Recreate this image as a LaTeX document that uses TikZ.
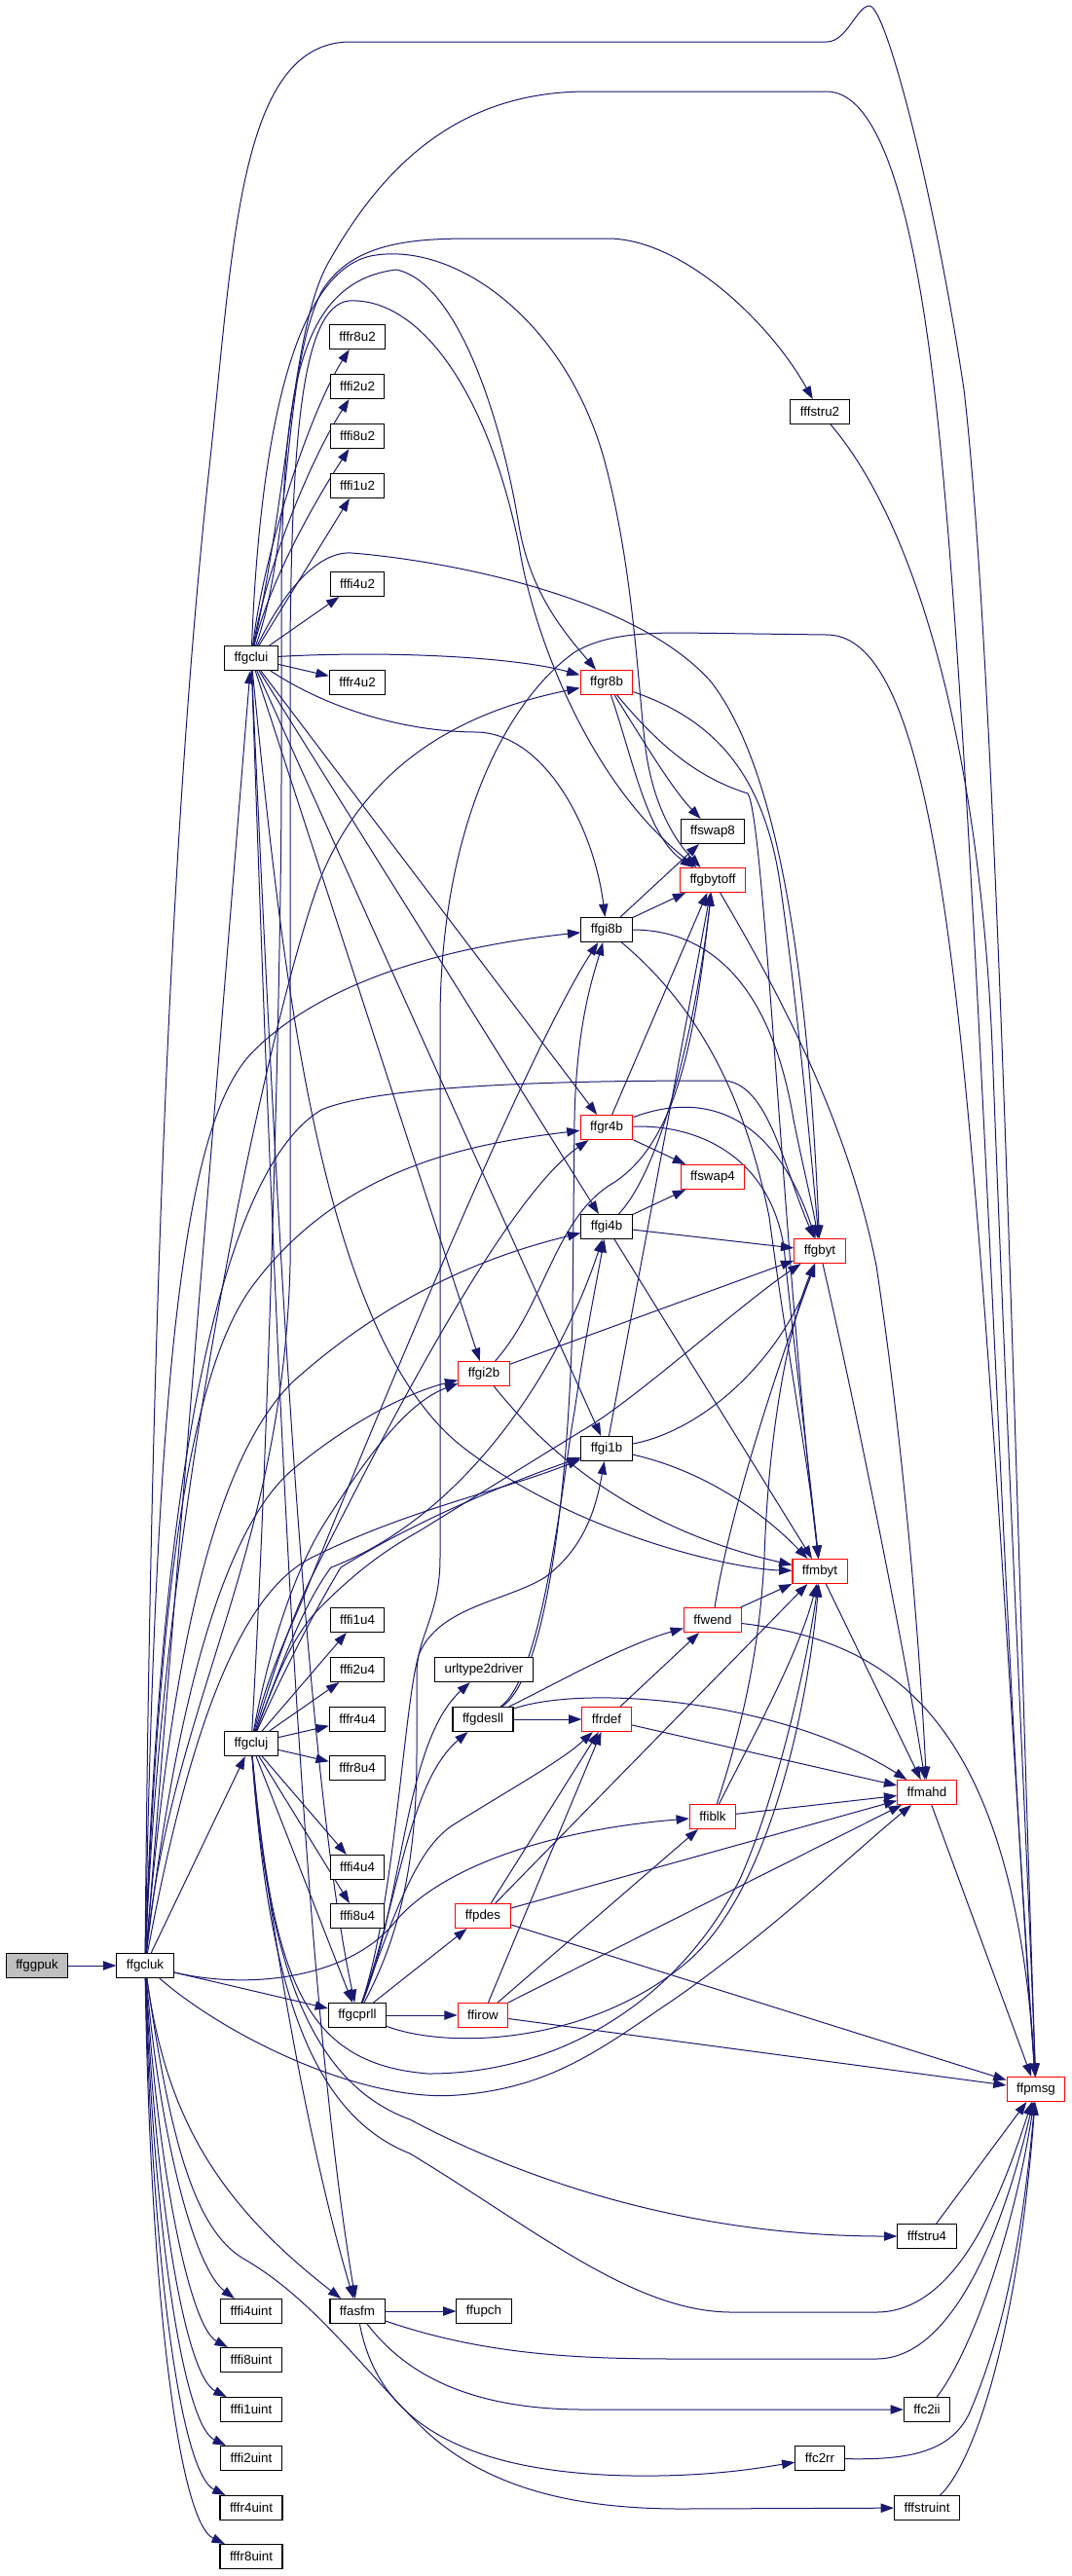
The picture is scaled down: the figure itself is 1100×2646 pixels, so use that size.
\documentclass[tikz,border=0pt]{standalone}
\usepackage{fontspec}
\setmainfont{Liberation Sans}
\usetikzlibrary{arrows.meta}
\definecolor{edgecol}{HTML}{191970}
\definecolor{rootfill}{HTML}{BFBFBF}
\pgfdeclarelayer{bg}
\pgfsetlayers{bg,main}
\begin{document}
\begin{tikzpicture}[x=0.75pt,y=-0.75pt,
  nbox/.style={draw=black, line width=0.8pt, fill=white, minimum height=18.75pt, inner xsep=7.5pt, inner ysep=0pt, font=\fontsize{10}{12}\selectfont},
  rnbox/.style={nbox, draw=red},
  edg/.style={draw=edgecol, line width=0.75pt, -{Triangle[length=10pt,width=7pt]}}]
\useasboundingbox (0,0) rectangle (1100,2646);
% nodes
\node[nbox, fill=rootfill] (ffggpuk) at (38,2019) {ffggpuk};
\node[nbox] (ffgcluk) at (149,2019) {ffgcluk};
\node[nbox] (ffgclui) at (258,676) {ffgclui};
\node[nbox] (ffgcluj) at (258,1791) {ffgcluj};
\node[nbox] (fffi4uint) at (258,2374) {fffi4uint};
\node[nbox] (fffi8uint) at (258,2424) {fffi8uint};
\node[nbox] (fffi1uint) at (258,2475) {fffi1uint};
\node[nbox] (fffi2uint) at (258,2525) {fffi2uint};
\node[nbox] (fffr4uint) at (258,2576) {fffr4uint};
\node[nbox] (fffr8uint) at (258,2626) {fffr8uint};
\node[nbox] (fffr8u2) at (367,346) {fffr8u2};
\node[nbox] (fffi2u2) at (367,397) {fffi2u2};
\node[nbox] (fffi8u2) at (367,448) {fffi8u2};
\node[nbox] (fffi1u2) at (367,499) {fffi1u2};
\node[nbox] (fffi4u2) at (367,600) {fffi4u2};
\node[nbox] (fffr4u2) at (367,701) {fffr4u2};
\node[nbox] (fffi1u4) at (367,1664) {fffi1u4};
\node[nbox] (fffi2u4) at (367,1715) {fffi2u4};
\node[nbox] (fffr4u4) at (367,1766) {fffr4u4};
\node[nbox] (fffr8u4) at (367,1816) {fffr8u4};
\node[nbox] (fffi4u4) at (367,1918) {fffi4u4};
\node[nbox] (fffi8u4) at (367,1968) {fffi8u4};
\node[nbox] (ffgcprll) at (367,2070) {ffgcprll};
\node[nbox] (ffasfm) at (367,2374) {ffasfm};
\node[rnbox] (ffgi2b) at (497,1411) {ffgi2b};
\node[nbox] (urltype2driver) at (497,1715) {urltype2driver};
\node[nbox] (ffgdesll) at (496,1766) {ffgdesll};
\node[rnbox] (ffpdes) at (496,1968) {ffpdes};
\node[rnbox] (ffirow) at (496,2070) {ffirow};
\node[nbox] (ffupch) at (497,2374) {ffupch};
\node[rnbox] (ffgr8b) at (623,701) {ffgr8b};
\node[nbox] (ffgi8b) at (623,955) {ffgi8b};
\node[rnbox] (ffgr4b) at (623,1158) {ffgr4b};
\node[nbox] (ffgi4b) at (623,1260) {ffgi4b};
\node[nbox] (ffgi1b) at (623,1488) {ffgi1b};
\node[rnbox] (ffrdef) at (623,1766) {ffrdef};
\node[nbox] (ffswap8) at (732,854) {ffswap8};
\node[rnbox] (ffgbytoff) at (732,904) {ffgbytoff};
\node[rnbox] (ffswap4) at (732,1209) {ffswap4};
\node[rnbox] (ffwend) at (732,1664) {ffwend};
\node[rnbox] (ffiblk) at (732,1866) {ffiblk};
\node[nbox] (fffstru2) at (842,423) {fffstru2};
\node[rnbox] (ffgbyt) at (842,1285) {ffgbyt};
\node[rnbox] (ffmbyt) at (842,1614) {ffmbyt};
\node[nbox] (ffc2rr) at (842,2525) {ffc2rr};
\node[rnbox] (ffmahd) at (952,1841) {ffmahd};
\node[nbox] (fffstru4) at (952,2297) {fffstru4};
\node[nbox] (ffc2ii) at (952,2475) {ffc2ii};
\node[nbox] (fffstruint) at (952,2576) {fffstruint};
\node[rnbox] (ffpmsg) at (1064,2146) {ffpmsg};

\begin{pgfonlayer}{bg}
\fill[white] (0,0) rectangle (1100,2646);
% ffggpuk / ffgcluk
\draw[edg] (ffggpuk) -- (ffgcluk);
\draw[edg] (ffgcluk) -- (ffgcluj);
\draw[edg] (ffgcluk) -- (ffgclui);
\draw[edg] (ffgcluk) -- (ffgcprll);
\draw[edg] (ffgcluk) .. controls (170,2170) and (220,2260) .. (ffasfm);
\draw[edg] (ffgcluk) .. controls (165,2200) and (200,2330) .. (fffi4uint);
\draw[edg] (ffgcluk) .. controls (162,2230) and (195,2390) .. (fffi8uint);
\draw[edg] (ffgcluk) .. controls (160,2260) and (190,2440) .. (fffi1uint);
\draw[edg] (ffgcluk) .. controls (158,2290) and (188,2490) .. (fffi2uint);
\draw[edg] (ffgcluk) .. controls (156,2320) and (185,2540) .. (fffr4uint);
\draw[edg] (ffgcluk) .. controls (154,2350) and (183,2590) .. (fffr8uint);
\draw[edg] (ffgcluk) .. controls (175,2200) and (200,2290) .. (250,2320) .. controls (320,2360) and (370,2430) .. (430,2490) .. controls (500,2560) and (600,2577) .. (700,2577) -- (fffstruint);
\draw[edg] (ffgcluk) .. controls (230,2090) and (370,2160) .. (470,2152) .. controls (560,2145) and (610,2110) .. (680,2062) .. controls (780,1995) and (880,1900) .. (ffmahd);
\draw[edg] (ffgcluk) .. controls (260,2045) and (360,2030) .. (405,1975) .. controls (450,1920) and (560,1880) .. (ffiblk);
\draw[edg] (ffgcluk) .. controls (155,1300) and (180,800) .. (215,480) .. controls (240,250) and (245,43) .. (360,43) -- (849,43) .. controls (870,43) and (880,6) .. (893,6) .. controls (910,6) and (960,200) .. (990,400) .. controls (1025,700) and (1045,1600) .. (ffpmsg);
\draw[edg] (ffgcluk) .. controls (160,1400) and (190,1150) .. (260,1080) .. controls (340,1000) and (480,970) .. (ffgi8b);
\draw[edg] (ffgcluk) .. controls (165,1600) and (200,1400) .. (260,1320) .. controls (350,1200) and (480,1175) .. (ffgr4b);
\draw[edg] (ffgcluk) .. controls (175,1700) and (220,1500) .. (300,1420) .. controls (400,1330) and (500,1290) .. (ffgi4b);
\draw[edg] (ffgcluk) .. controls (180,1750) and (230,1570) .. (300,1510) .. controls (360,1460) and (420,1430) .. (ffgi2b);
\draw[edg] (ffgcluk) .. controls (190,1800) and (240,1640) .. (320,1600) .. controls (420,1550) and (520,1530) .. (ffgi1b);
\draw[edg] (ffgcluk) .. controls (170,1500) and (290,1000) .. (330,900) .. controls (380,780) and (480,730) .. (ffgr8b);
\draw[edg] (ffgcluk) .. controls (165,1500) and (230,1200) .. (330,1140) .. controls (400,1110) and (650,1110) .. (745,1110) .. controls (790,1115) and (805,1200) .. (ffgbyt);
\draw[edg] (ffgcluk) .. controls (175,1750) and (290,1600) .. (298,1300) -- (298,660) .. controls (300,450) and (310,315) .. (358,309) .. controls (430,305) and (500,400) .. (533,560) .. controls (545,640) and (600,800) .. (ffgbytoff);
% ffgclui
\draw[edg] (ffgclui) .. controls (272,560) and (320,420) .. (fffr8u2);
\draw[edg] (ffgclui) .. controls (274,580) and (320,470) .. (fffi2u2);
\draw[edg] (ffgclui) .. controls (276,600) and (320,520) .. (fffi8u2);
\draw[edg] (ffgclui) -- (fffi1u2);
\draw[edg] (ffgclui) -- (fffi4u2);
\draw[edg] (ffgclui) -- (fffr4u2);
\draw[edg] (ffgclui) .. controls (300,560) and (290,380) .. (330,300) .. controls (360,250) and (420,245) .. (484,245) -- (624,245) .. controls (700,245) and (790,330) .. (fffstru2);
\draw[edg] (ffgclui) .. controls (300,480) and (300,330) .. (340,265) .. controls (400,160) and (480,94) .. (603,94) -- (849,94) .. controls (900,94) and (940,200) .. (965,450) .. controls (1005,850) and (1030,1700) .. (ffpmsg);
\draw[edg] (ffgclui) .. controls (400,668) and (530,675) .. (ffgr8b);
\draw[edg] (ffgclui) .. controls (340,730) and (420,752) .. (491,752) .. controls (560,755) and (610,850) .. (ffgi8b);
\draw[edg] (ffgclui) -- (ffgr4b);
\draw[edg] (ffgclui) -- (ffgi4b);
\draw[edg] (ffgclui) -- (ffgi2b);
\draw[edg] (ffgclui) -- (ffgi1b);
\draw[edg] (ffgclui) .. controls (290,1000) and (330,1380) .. (480,1490) .. controls (600,1580) and (760,1612) .. (ffmbyt);
\draw[edg] (ffgclui) .. controls (295,600) and (330,566) .. (361,568) .. controls (450,575) and (650,610) .. (730,700) .. controls (800,790) and (830,1000) .. (ffgbyt);
\draw[edg] (ffgclui) .. controls (282,1200) and (310,1800) .. (ffgcprll);
\draw[edg] (ffgclui) .. controls (280,1300) and (305,2000) .. (ffasfm);
\draw[edg] (ffgclui) .. controls (265,500) and (290,275) .. (386,262) .. controls (470,250) and (580,330) .. (620,470) .. controls (650,580) and (655,700) .. (662,760) .. controls (668,820) and (690,860) .. (ffgbytoff);
% ffgcluj
\draw[edg] (ffgcluj) -- (fffi1u4);
\draw[edg] (ffgcluj) -- (fffi2u4);
\draw[edg] (ffgcluj) -- (fffr4u4);
\draw[edg] (ffgcluj) -- (fffr8u4);
\draw[edg] (ffgcluj) -- (fffi4u4);
\draw[edg] (ffgcluj) -- (fffi8u4);
\draw[edg] (ffgcluj) -- (ffgcprll);
\draw[edg] (ffgcluj) .. controls (272,1950) and (315,2200) .. (ffasfm);
\draw[edg] (ffgcluj) .. controls (275,2020) and (320,2140) .. (421,2177) .. controls (530,2235) and (700,2297) .. (fffstru4);
\draw[edg] (ffgcluj) .. controls (275,2030) and (315,2170) .. (421,2212) .. controls (550,2290) and (650,2374) .. (750,2375) -- (900,2375) .. controls (985,2375) and (1030,2250) .. (ffpmsg);
\draw[edg] (ffgcluj) .. controls (280,2030) and (310,2120) .. (440,2130) .. controls (580,2130) and (700,2050) .. (760,1930) .. controls (800,1840) and (830,1700) .. (ffmbyt);
\draw[edg] (ffgcluj) .. controls (275,1720) and (295,1680) .. (312,1640) .. controls (360,1520) and (540,1080) .. (ffgi8b);
\draw[edg] (ffgcluj) .. controls (280,1720) and (300,1660) .. (320,1620) .. controls (400,1460) and (520,1230) .. (ffgr4b);
\draw[edg] (ffgcluj) .. controls (285,1720) and (310,1650) .. (340,1610) .. controls (470,1560) and (570,1420) .. (ffgi4b);
\draw[edg] (ffgcluj) .. controls (275,1700) and (300,1620) .. (330,1570) .. controls (380,1490) and (420,1440) .. (ffgi2b);
\draw[edg] (ffgcluj) .. controls (290,1720) and (320,1660) .. (350,1610) .. controls (430,1560) and (530,1520) .. (ffgi1b);
\draw[edg] (ffgcluj) .. controls (285,1720) and (300,1680) .. (330,1650) .. controls (370,1610) and (400,1590) .. (430,1573) -- (597,1470) .. controls (650,1440) and (760,1340) .. (ffgbyt);
\draw[edg] (ffgcluj) .. controls (275,1500) and (289,1000) .. (289,800) -- (289,620) .. controls (290,420) and (300,290) .. (407,277) .. controls (470,290) and (515,430) .. (533,540) .. controls (545,610) and (580,650) .. (ffgr8b);
% ffgcprll
\draw[edg] (ffgcprll) -- (ffirow);
\draw[edg] (ffgcprll) -- (ffpdes);
\draw[edg] (ffgcprll) .. controls (410,1950) and (420,1830) .. (ffgdesll);
\draw[edg] (ffgcprll) .. controls (415,1950) and (415,1790) .. (urltype2driver);
\draw[edg] (ffgcprll) .. controls (410,1950) and (430,1900) .. (463,1876) .. controls (520,1840) and (575,1810) .. (ffrdef);
\draw[edg] (ffgcprll) .. controls (460,2105) and (600,2100) .. (700,2020) .. controls (790,1950) and (830,1750) .. (ffmbyt);
\draw[edg] (ffgcprll) .. controls (405,1960) and (415,1750) .. (430,1700) .. controls (450,1650) and (520,1645) .. (560,1620) .. controls (600,1590) and (612,1550) .. (ffgi1b);
\draw[edg] (ffgcprll) .. controls (415,1980) and (428,1900) .. (428,1800) -- (428,1720) .. controls (428,1680) and (452,1660) .. (452,1600) -- (452,1050) .. controls (452,850) and (520,720) .. (590,670) .. controls (620,652) and (660,650) .. (700,650) -- (849,652) .. controls (920,652) and (960,800) .. (990,1100) .. controls (1020,1400) and (1040,1800) .. (ffpmsg);
% ffgdesll
\draw[edg] (ffgdesll) -- (ffrdef);
\draw[edg] (ffgdesll) .. controls (600,1730) and (800,1745) .. (ffmahd);
\draw[edg] (ffgdesll) .. controls (570,1730) and (640,1690) .. (ffwend);
\draw[edg] (ffgdesll) .. controls (560,1720) and (580,1500) .. (590,1450) .. controls (600,1380) and (612,1320) .. (ffgi4b);
\draw[edg] (ffgdesll) .. controls (565,1720) and (585,1500) .. (588,1350) -- (590,1150) .. controls (592,1050) and (610,1000) .. (ffgi8b);
% byte readers
\draw[edg] (ffgr8b) .. controls (660,760) and (690,810) .. (ffswap8);
\draw[edg] (ffgr8b) .. controls (650,780) and (665,860) .. (ffgbytoff);
\draw[edg] (ffgr8b) .. controls (720,735) and (780,780) .. (800,900) .. controls (815,1000) and (830,1150) .. (ffgbyt);
\draw[edg] (ffgr8b) .. controls (680,770) and (720,800) .. (768,815) .. controls (785,840) and (805,1300) .. (ffmbyt);
\draw[edg] (ffgi8b) -- (ffswap8);
\draw[edg] (ffgi8b) -- (ffgbytoff);
\draw[edg] (ffgi8b) .. controls (720,955) and (790,1000) .. (815,1150) .. controls (825,1200) and (835,1240) .. (ffgbyt);
\draw[edg] (ffgi8b) .. controls (700,1020) and (760,1100) .. (790,1250) .. controls (810,1400) and (830,1500) .. (ffmbyt);
\draw[edg] (ffgr4b) -- (ffswap4);
\draw[edg] (ffgr4b) -- (ffgbytoff);
\draw[edg] (ffgr4b) .. controls (710,1125) and (790,1130) .. (ffgbyt);
\draw[edg] (ffgr4b) .. controls (720,1155) and (790,1190) .. (805,1280) .. controls (815,1380) and (830,1500) .. (ffmbyt);
\draw[edg] (ffgi4b) -- (ffswap4);
\draw[edg] (ffgi4b) .. controls (680,1200) and (715,1050) .. (ffgbytoff);
\draw[edg] (ffgi4b) -- (ffgbyt);
\draw[edg] (ffgi4b) -- (ffmbyt);
\draw[edg] (ffgi2b) -- (ffgbyt);
\draw[edg] (ffgi2b) .. controls (560,1490) and (650,1570) .. (ffmbyt);
\draw[edg] (ffgi2b) .. controls (560,1340) and (570,1250) .. (630,1215) .. controls (700,1170) and (715,1050) .. (ffgbytoff);
\draw[edg] (ffgi1b) -- (ffgbytoff);
\draw[edg] (ffgi1b) .. controls (720,1470) and (800,1400) .. (ffgbyt);
\draw[edg] (ffgi1b) .. controls (720,1510) and (780,1550) .. (ffmbyt);
% lower right
\draw[edg] (ffgbytoff) .. controls (800,1020) and (870,1150) .. (900,1300) .. controls (930,1500) and (945,1700) .. (ffmahd);
\draw[edg] (ffgbyt) .. controls (880,1450) and (930,1700) .. (ffmahd);
\draw[edg] (ffmbyt) -- (ffmahd);
\draw[edg] (ffmahd) -- (ffpmsg);
\draw[edg] (ffwend) -- (ffmbyt);
\draw[edg] (ffwend) .. controls (910,1685) and (1040,1760) .. (ffpmsg);
\draw[edg] (ffwend) .. controls (750,1550) and (800,1400) .. (ffgbyt);
\draw[edg] (ffrdef) -- (ffwend);
\draw[edg] (ffrdef) -- (ffmahd);
\draw[edg] (ffiblk) .. controls (760,1780) and (780,1700) .. (785,1600) .. controls (790,1450) and (815,1350) .. (ffgbyt);
\draw[edg] (ffiblk) .. controls (770,1790) and (820,1700) .. (ffmbyt);
\draw[edg] (ffiblk) -- (ffmahd);
\draw[edg] (ffpdes) -- (ffrdef);
\draw[edg] (ffpdes) -- (ffmbyt);
\draw[edg] (ffpdes) -- (ffmahd);
\draw[edg] (ffpdes) -- (ffpmsg);
\draw[edg] (ffirow) -- (ffrdef);
\draw[edg] (ffirow) -- (ffiblk);
\draw[edg] (ffirow) -- (ffmahd);
\draw[edg] (ffirow) -- (ffpmsg);
% ffasfm and string helpers
\draw[edg] (ffasfm) -- (ffupch);
\draw[edg] (ffasfm) .. controls (500,2420) and (600,2423) .. (700,2423) -- (900,2423) .. controls (990,2423) and (1040,2250) .. (ffpmsg);
\draw[edg] (ffasfm) .. controls (410,2430) and (470,2475) .. (600,2475) -- (ffc2ii);
\draw[edg] (ffasfm) .. controls (385,2470) and (450,2540) .. (650,2543) .. controls (730,2544) and (780,2535) .. (ffc2rr);
\draw[edg] (ffc2ii) .. controls (995,2420) and (1040,2300) .. (ffpmsg);
\draw[edg] (ffc2rr) .. controls (930,2527) and (975,2520) .. (995,2480) .. controls (1030,2400) and (1050,2300) .. (ffpmsg);
\draw[edg] (fffstruint) .. controls (1000,2530) and (1045,2400) .. (ffpmsg);
\draw[edg] (fffstru4) -- (ffpmsg);
\draw[edg] (fffstru2) .. controls (950,550) and (1010,800) .. (1020,1100) .. controls (1035,1500) and (1055,1900) .. (ffpmsg);
\end{pgfonlayer}
\end{tikzpicture}
\end{document}
